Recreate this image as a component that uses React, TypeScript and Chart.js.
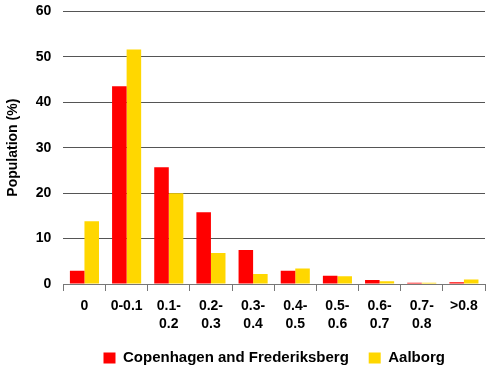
import React, { useEffect, useRef } from "react";
import { Chart, registerables } from "chart.js";

Chart.register(...registerables);

const categories: (string | string[])[] = [
  "0",
  "0-0.1",
  ["0.1-", "0.2"],
  ["0.2-", "0.3"],
  ["0.3-", "0.4"],
  ["0.4-", "0.5"],
  ["0.5-", "0.6"],
  ["0.6-", "0.7"],
  ["0.7-", "0.8"],
  ">0.8",
];
const copenhagen = [2.9, 43.5, 25.7, 15.8, 7.5, 2.9, 1.8, 0.9, 0.3, 0.4];
const aalborg = [13.8, 51.6, 20.0, 6.8, 2.2, 3.4, 1.7, 0.6, 0.3, 1.0];
const seriesNames = ["Copenhagen and Frederiksberg", "Aalborg"];

export default function App() {
  const ref = useRef<HTMLCanvasElement>(null);
  useEffect(() => {
    if (!ref.current) return;
    const family = "'Liberation Sans', Arial, sans-serif";
    const tickFont = { family, weight: "bold" as const, size: 14, lineHeight: 18 / 14 };
    const chart = new Chart(ref.current, {
      type: "bar",
      data: {
        labels: categories,
        datasets: [
          { label: seriesNames[0], data: copenhagen, backgroundColor: "#FF0000", borderWidth: 0 },
          { label: seriesNames[1], data: aalborg, backgroundColor: "#FFD700", borderWidth: 0 },
        ],
      },
      options: {
        animation: false,
        responsive: false,
        maintainAspectRatio: false,
        layout: { padding: { top: 0, right: 5, left: 1, bottom: 0 } },
        datasets: { bar: { categoryPercentage: 0.69, barPercentage: 1 } },
        plugins: {
          tooltip: { enabled: false },
          legend: {
            position: "bottom",
            fullSize: false,
            maxHeight: 29,
            labels: {
              font: { family, weight: "bold", size: 15 },
              color: "#000",
              boxWidth: 12,
              boxHeight: 11,
              padding: 11.5,
              generateLabels: (c: any) => {
                const items = Chart.defaults.plugins.legend.labels.generateLabels(c);
                items.forEach((it: any, i: number) => {
                  it.lineWidth = 0;
                  if (i === 0) it.text = it.text + "  ";
                });
                return items;
              },
            },
          },
        },
        scales: {
          x: {
            grid: { offset: true, drawOnChartArea: false, drawTicks: true, tickLength: 7, color: "#777" },
            border: { color: "#777" },
            ticks: { font: tickFont, color: "#000", maxRotation: 0, autoSkip: false, padding: 6 },
          },
          y: {
            min: 0,
            max: 60,
            ticks: { stepSize: 10, font: { family, weight: "bold", size: 14 }, color: "#000", padding: 3 },
            grid: { color: "#555", drawTicks: true, tickLength: 9, tickColor: "rgba(0,0,0,0)" },
            border: { display: false },
            title: {
              display: true,
              text: "Population (%)",
              font: { family, weight: "bold", size: 14 },
              color: "#000",
              padding: { top: 4, bottom: 11 },
            },
          },
        },
      },
    });
    return () => chart.destroy();
  }, []);
  return (
    <div style={{ position: "absolute", left: 0, top: 0, width: 490, height: 368, background: "#fff" }}>
      <canvas ref={ref} width={490} height={368} />
    </div>
  );
}
